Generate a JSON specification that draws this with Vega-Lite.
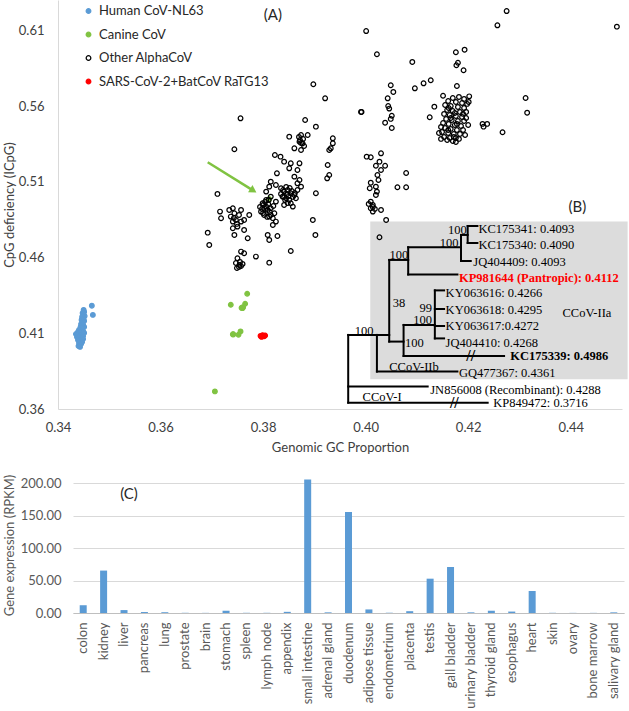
{
"$schema":"https://vega.github.io/schema/vega-lite/v6.json",
"padding":{"left":3,"top":0,"right":0,"bottom":0},
"config":{"view":{"stroke":null},"font":"Lato","axis":{"labelFont":"Lato","titleFont":"Lato","labelFontSize":13,"titleFontSize":13,"titleFontWeight":"normal","ticks":false,"labelFlush":false,"labelOverlap":false,"tickCount":12},"legend":{"labelFont":"Lato"}},
"columns":1,
"spacing":20,
"concat":[
{
"width":549,"height":409,
"layer":[
{"data":{"values":[{"x":0.4009,"x2":0.4511,"y":0.4837,"y2":0.3796}]},
 "mark":{"type":"rect","color":"#dcdcdc"},
 "encoding":{
  "x":{"field":"x","type":"quantitative","scale":{"domain":[0.34,0.45],"range":[-15,549],"nice":false,"zero":false},"axis":{"values":[0.34,0.36,0.38,0.40,0.42,0.44],"tickCount":12,"format":".2f","title":"Genomic GC Proportion","grid":false,"domainColor":"#d9d9d9","labelColor":"#404040","titleColor":"#404040","labelPadding":12,"titlePadding":7}},
  "x2":{"field":"x2"},
  "y":{"field":"y","type":"quantitative","scale":{"domain":[0.36,0.63],"nice":false,"zero":false},"axis":{"values":[0.36,0.41,0.46,0.51,0.56,0.61],"tickCount":12,"format":".2f","title":"CpG deficiency (ICpG)","grid":false,"offset":15,"domainColor":"#d9d9d9","labelColor":"#404040","titleColor":"#404040","labelPadding":14,"titlePadding":2}},
  "y2":{"field":"y2"}}},
{"data":{"values":[
{"g":"Human CoV-NL63","x":0.3450,"y":0.4254},{"g":"Human CoV-NL63","x":0.3451,"y":0.4241},{"g":"Human CoV-NL63","x":0.3448,"y":0.4234},{"g":"Human CoV-NL63","x":0.3449,"y":0.4221},{"g":"Human CoV-NL63","x":0.3452,"y":0.4214},{"g":"Human CoV-NL63","x":0.3447,"y":0.4208},{"g":"Human CoV-NL63","x":0.3450,"y":0.4194},{"g":"Human CoV-NL63","x":0.3446,"y":0.4188},{"g":"Human CoV-NL63","x":0.3451,"y":0.4181},{"g":"Human CoV-NL63","x":0.3448,"y":0.4175},{"g":"Human CoV-NL63","x":0.3445,"y":0.4161},{"g":"Human CoV-NL63","x":0.3449,"y":0.4155},{"g":"Human CoV-NL63","x":0.3451,"y":0.4142},{"g":"Human CoV-NL63","x":0.3444,"y":0.4142},{"g":"Human CoV-NL63","x":0.3447,"y":0.4135},{"g":"Human CoV-NL63","x":0.3441,"y":0.4122},{"g":"Human CoV-NL63","x":0.3445,"y":0.4115},{"g":"Human CoV-NL63","x":0.3449,"y":0.4115},{"g":"Human CoV-NL63","x":0.3439,"y":0.4109},{"g":"Human CoV-NL63","x":0.3443,"y":0.4102},{"g":"Human CoV-NL63","x":0.3447,"y":0.4095},{"g":"Human CoV-NL63","x":0.3451,"y":0.4102},{"g":"Human CoV-NL63","x":0.3435,"y":0.4095},{"g":"Human CoV-NL63","x":0.3439,"y":0.4089},{"g":"Human CoV-NL63","x":0.3444,"y":0.4082},{"g":"Human CoV-NL63","x":0.3449,"y":0.4082},{"g":"Human CoV-NL63","x":0.3437,"y":0.4076},{"g":"Human CoV-NL63","x":0.3441,"y":0.4069},{"g":"Human CoV-NL63","x":0.3445,"y":0.4062},{"g":"Human CoV-NL63","x":0.3449,"y":0.4062},{"g":"Human CoV-NL63","x":0.3439,"y":0.4056},{"g":"Human CoV-NL63","x":0.3443,"y":0.4049},{"g":"Human CoV-NL63","x":0.3447,"y":0.4043},{"g":"Human CoV-NL63","x":0.3441,"y":0.4036},{"g":"Human CoV-NL63","x":0.3445,"y":0.4029},{"g":"Human CoV-NL63","x":0.3440,"y":0.4016},{"g":"Human CoV-NL63","x":0.3443,"y":0.4010},{"g":"Human CoV-NL63","x":0.3466,"y":0.4282},{"g":"Human CoV-NL63","x":0.3468,"y":0.4221},
{"g":"Canine CoV","x":0.3769,"y":0.4361},{"g":"Canine CoV","x":0.3737,"y":0.4288},{"g":"Canine CoV","x":0.3765,"y":0.4295},{"g":"Canine CoV","x":0.3761,"y":0.4272},{"g":"Canine CoV","x":0.3758,"y":0.4268},{"g":"Canine CoV","x":0.3760,"y":0.4266},{"g":"Canine CoV","x":0.3742,"y":0.4093},{"g":"Canine CoV","x":0.3752,"y":0.4090},{"g":"Canine CoV","x":0.3756,"y":0.4112},{"g":"Canine CoV","x":0.3741,"y":0.4093},{"g":"Canine CoV","x":0.3706,"y":0.3716},{"g":"Canine CoV","x":0.3812,"y":0.4986},
{"g":"Other AlphaCoV","x":0.3756,"y":0.5519},{"g":"Other AlphaCoV","x":0.3744,"y":0.5315},{"g":"Other AlphaCoV","x":0.3882,"y":0.5508},{"g":"Other AlphaCoV","x":0.3903,"y":0.5464},{"g":"Other AlphaCoV","x":0.3851,"y":0.5398},{"g":"Other AlphaCoV","x":0.3874,"y":0.5409},{"g":"Other AlphaCoV","x":0.3871,"y":0.5365},{"g":"Other AlphaCoV","x":0.3877,"y":0.5354},{"g":"Other AlphaCoV","x":0.3887,"y":0.5409},{"g":"Other AlphaCoV","x":0.3861,"y":0.5321},{"g":"Other AlphaCoV","x":0.3874,"y":0.5310},{"g":"Other AlphaCoV","x":0.3936,"y":0.5387},{"g":"Other AlphaCoV","x":0.3936,"y":0.5354},{"g":"Other AlphaCoV","x":0.3932,"y":0.5321},{"g":"Other AlphaCoV","x":0.3929,"y":0.5310},{"g":"Other AlphaCoV","x":0.3926,"y":0.5211},{"g":"Other AlphaCoV","x":0.3929,"y":0.5145},{"g":"Other AlphaCoV","x":0.3925,"y":0.5123},{"g":"Other AlphaCoV","x":0.3823,"y":0.5277},{"g":"Other AlphaCoV","x":0.3834,"y":0.5266},{"g":"Other AlphaCoV","x":0.3841,"y":0.5233},{"g":"Other AlphaCoV","x":0.3854,"y":0.5222},{"g":"Other AlphaCoV","x":0.3871,"y":0.5222},{"g":"Other AlphaCoV","x":0.3851,"y":0.5189},{"g":"Other AlphaCoV","x":0.3867,"y":0.5178},{"g":"Other AlphaCoV","x":0.3861,"y":0.5134},{"g":"Other AlphaCoV","x":0.3827,"y":0.5156},{"g":"Other AlphaCoV","x":0.3815,"y":0.5101},{"g":"Other AlphaCoV","x":0.3825,"y":0.5079},
{"g":"Other AlphaCoV","x":0.3835,"y":0.5057},{"g":"Other AlphaCoV","x":0.3841,"y":0.5035},{"g":"Other AlphaCoV","x":0.3848,"y":0.5046},{"g":"Other AlphaCoV","x":0.3854,"y":0.5024},{"g":"Other AlphaCoV","x":0.3838,"y":0.5002},{"g":"Other AlphaCoV","x":0.3845,"y":0.4991},{"g":"Other AlphaCoV","x":0.3851,"y":0.4980},{"g":"Other AlphaCoV","x":0.3861,"y":0.5013},{"g":"Other AlphaCoV","x":0.3867,"y":0.5046},{"g":"Other AlphaCoV","x":0.3864,"y":0.4991},{"g":"Other AlphaCoV","x":0.3871,"y":0.5112},{"g":"Other AlphaCoV","x":0.3874,"y":0.5068},{"g":"Other AlphaCoV","x":0.3867,"y":0.5090},{"g":"Other AlphaCoV","x":0.3854,"y":0.4958},{"g":"Other AlphaCoV","x":0.3858,"y":0.4936},{"g":"Other AlphaCoV","x":0.3841,"y":0.4947},{"g":"Other AlphaCoV","x":0.3903,"y":0.5024},{"g":"Other AlphaCoV","x":0.3839,"y":0.5046},{"g":"Other AlphaCoV","x":0.3847,"y":0.5020},{"g":"Other AlphaCoV","x":0.3852,"y":0.5059},{"g":"Other AlphaCoV","x":0.3858,"y":0.5000},{"g":"Other AlphaCoV","x":0.3843,"y":0.4980},{"g":"Other AlphaCoV","x":0.3850,"y":0.5006},{"g":"Other AlphaCoV","x":0.3835,"y":0.5020},{"g":"Other AlphaCoV","x":0.3856,"y":0.5039},{"g":"Other AlphaCoV","x":0.3845,"y":0.5066},{"g":"Other AlphaCoV","x":0.3862,"y":0.5026},{"g":"Other AlphaCoV","x":0.3848,"y":0.4960},{"g":"Other AlphaCoV","x":0.3841,"y":0.5000},
{"g":"Other AlphaCoV","x":0.3799,"y":0.4958},{"g":"Other AlphaCoV","x":0.3806,"y":0.4936},{"g":"Other AlphaCoV","x":0.3809,"y":0.4914},{"g":"Other AlphaCoV","x":0.3815,"y":0.4925},{"g":"Other AlphaCoV","x":0.3796,"y":0.4903},{"g":"Other AlphaCoV","x":0.3802,"y":0.4881},{"g":"Other AlphaCoV","x":0.3812,"y":0.4870},{"g":"Other AlphaCoV","x":0.3819,"y":0.4859},{"g":"Other AlphaCoV","x":0.3822,"y":0.4892},{"g":"Other AlphaCoV","x":0.3806,"y":0.4980},{"g":"Other AlphaCoV","x":0.3815,"y":0.5002},{"g":"Other AlphaCoV","x":0.3825,"y":0.4969},{"g":"Other AlphaCoV","x":0.3825,"y":0.4837},{"g":"Other AlphaCoV","x":0.3819,"y":0.4815},{"g":"Other AlphaCoV","x":0.3806,"y":0.5035},{"g":"Other AlphaCoV","x":0.3812,"y":0.5068},{"g":"Other AlphaCoV","x":0.3800,"y":0.4947},{"g":"Other AlphaCoV","x":0.3804,"y":0.4921},{"g":"Other AlphaCoV","x":0.3810,"y":0.4954},{"g":"Other AlphaCoV","x":0.3813,"y":0.4901},{"g":"Other AlphaCoV","x":0.3800,"y":0.4894},{"g":"Other AlphaCoV","x":0.3808,"y":0.4868},{"g":"Other AlphaCoV","x":0.3794,"y":0.4934},{"g":"Other AlphaCoV","x":0.3820,"y":0.4940},{"g":"Other AlphaCoV","x":0.3811,"y":0.4980},{"g":"Other AlphaCoV","x":0.3804,"y":0.4967},{"g":"Other AlphaCoV","x":0.3815,"y":0.4881},{"g":"Other AlphaCoV","x":0.3798,"y":0.4921},
{"g":"Other AlphaCoV","x":0.3711,"y":0.5020},{"g":"Other AlphaCoV","x":0.3716,"y":0.4903},{"g":"Other AlphaCoV","x":0.3718,"y":0.4859},
{"g":"Other AlphaCoV","x":0.3734,"y":0.4914},{"g":"Other AlphaCoV","x":0.3741,"y":0.4925},{"g":"Other AlphaCoV","x":0.3744,"y":0.4892},{"g":"Other AlphaCoV","x":0.3737,"y":0.4870},{"g":"Other AlphaCoV","x":0.3741,"y":0.4837},{"g":"Other AlphaCoV","x":0.3747,"y":0.4848},{"g":"Other AlphaCoV","x":0.3757,"y":0.4837},{"g":"Other AlphaCoV","x":0.3763,"y":0.4848},{"g":"Other AlphaCoV","x":0.3750,"y":0.4804},{"g":"Other AlphaCoV","x":0.3741,"y":0.4793},{"g":"Other AlphaCoV","x":0.3744,"y":0.4749},{"g":"Other AlphaCoV","x":0.3763,"y":0.4782},{"g":"Other AlphaCoV","x":0.3757,"y":0.4914},{"g":"Other AlphaCoV","x":0.3773,"y":0.4881},{"g":"Other AlphaCoV","x":0.3770,"y":0.4727},{"g":"Other AlphaCoV","x":0.3743,"y":0.4861},{"g":"Other AlphaCoV","x":0.3749,"y":0.4822},{"g":"Other AlphaCoV","x":0.3753,"y":0.4881},
{"g":"Other AlphaCoV","x":0.3692,"y":0.4764},{"g":"Other AlphaCoV","x":0.3695,"y":0.4683},{"g":"Other AlphaCoV","x":0.3809,"y":0.4749},{"g":"Other AlphaCoV","x":0.3812,"y":0.4716},{"g":"Other AlphaCoV","x":0.3828,"y":0.4742},{"g":"Other AlphaCoV","x":0.3897,"y":0.4848},{"g":"Other AlphaCoV","x":0.3902,"y":0.4749},{"g":"Other AlphaCoV","x":0.3854,"y":0.4643},{"g":"Other AlphaCoV","x":0.3757,"y":0.4639},{"g":"Other AlphaCoV","x":0.3763,"y":0.4628},{"g":"Other AlphaCoV","x":0.3750,"y":0.4595},{"g":"Other AlphaCoV","x":0.3786,"y":0.4606},{"g":"Other AlphaCoV","x":0.3754,"y":0.4551},{"g":"Other AlphaCoV","x":0.3760,"y":0.4558},{"g":"Other AlphaCoV","x":0.3812,"y":0.4566},{"g":"Other AlphaCoV","x":0.3747,"y":0.4564},{"g":"Other AlphaCoV","x":0.3753,"y":0.4538},{"g":"Other AlphaCoV","x":0.3757,"y":0.4544},{"g":"Other AlphaCoV","x":0.3749,"y":0.4531},{"g":"Other AlphaCoV","x":0.3755,"y":0.4571},
{"g":"Other AlphaCoV","x":0.3872,"y":0.5376},{"g":"Other AlphaCoV","x":0.3878,"y":0.5383},{"g":"Other AlphaCoV","x":0.3874,"y":0.5356},{"g":"Other AlphaCoV","x":0.3880,"y":0.5336},{"g":"Other AlphaCoV","x":0.3870,"y":0.5396},
{"g":"Other AlphaCoV","x":0.4275,"y":0.6227},{"g":"Other AlphaCoV","x":0.4257,"y":0.6133},{"g":"Other AlphaCoV","x":0.4490,"y":0.6124},{"g":"Other AlphaCoV","x":0.4001,"y":0.6095},{"g":"Other AlphaCoV","x":0.4022,"y":0.5942},{"g":"Other AlphaCoV","x":0.4091,"y":0.5891},{"g":"Other AlphaCoV","x":0.4176,"y":0.5955},{"g":"Other AlphaCoV","x":0.4193,"y":0.5972},{"g":"Other AlphaCoV","x":0.4180,"y":0.5886},{"g":"Other AlphaCoV","x":0.4177,"y":0.5869},{"g":"Other AlphaCoV","x":0.4191,"y":0.5836},{"g":"Other AlphaCoV","x":0.3898,"y":0.5744},{"g":"Other AlphaCoV","x":0.3921,"y":0.5651},
{"g":"Other AlphaCoV","x":0.4049,"y":0.5737},{"g":"Other AlphaCoV","x":0.4054,"y":0.5693},{"g":"Other AlphaCoV","x":0.4043,"y":0.5651},{"g":"Other AlphaCoV","x":0.4044,"y":0.5600},{"g":"Other AlphaCoV","x":0.4046,"y":0.5583},{"g":"Other AlphaCoV","x":0.4051,"y":0.5536},{"g":"Other AlphaCoV","x":0.4049,"y":0.5515},{"g":"Other AlphaCoV","x":0.4038,"y":0.5490},{"g":"Other AlphaCoV","x":0.4051,"y":0.5455},{"g":"Other AlphaCoV","x":0.3991,"y":0.5561},{"g":"Other AlphaCoV","x":0.3992,"y":0.5561},
{"g":"Other AlphaCoV","x":0.4096,"y":0.5717},{"g":"Other AlphaCoV","x":0.4113,"y":0.5750},{"g":"Other AlphaCoV","x":0.4127,"y":0.5770},{"g":"Other AlphaCoV","x":0.4178,"y":0.5732},{"g":"Other AlphaCoV","x":0.4151,"y":0.5668},{"g":"Other AlphaCoV","x":0.4134,"y":0.5596},{"g":"Other AlphaCoV","x":0.4125,"y":0.5526},{"g":"Other AlphaCoV","x":0.4202,"y":0.5664},{"g":"Other AlphaCoV","x":0.4228,"y":0.5482},{"g":"Other AlphaCoV","x":0.4237,"y":0.5482},{"g":"Other AlphaCoV","x":0.4230,"y":0.5464},{"g":"Other AlphaCoV","x":0.4267,"y":0.5427},{"g":"Other AlphaCoV","x":0.4312,"y":0.5653},{"g":"Other AlphaCoV","x":0.4315,"y":0.5556},
{"g":"Other AlphaCoV","x":0.4002,"y":0.5266},{"g":"Other AlphaCoV","x":0.4010,"y":0.5262},{"g":"Other AlphaCoV","x":0.4030,"y":0.5288},{"g":"Other AlphaCoV","x":0.4027,"y":0.5233},{"g":"Other AlphaCoV","x":0.4020,"y":0.5206},{"g":"Other AlphaCoV","x":0.4038,"y":0.5206},{"g":"Other AlphaCoV","x":0.4030,"y":0.5178},{"g":"Other AlphaCoV","x":0.4023,"y":0.5145},{"g":"Other AlphaCoV","x":0.4025,"y":0.5112},{"g":"Other AlphaCoV","x":0.4010,"y":0.5094},{"g":"Other AlphaCoV","x":0.4020,"y":0.5068},{"g":"Other AlphaCoV","x":0.4022,"y":0.5035},{"g":"Other AlphaCoV","x":0.4008,"y":0.5057},{"g":"Other AlphaCoV","x":0.4020,"y":0.5013},{"g":"Other AlphaCoV","x":0.4010,"y":0.4969},{"g":"Other AlphaCoV","x":0.4014,"y":0.4947},{"g":"Other AlphaCoV","x":0.4010,"y":0.4925},{"g":"Other AlphaCoV","x":0.4014,"y":0.4903},{"g":"Other AlphaCoV","x":0.4030,"y":0.4914},{"g":"Other AlphaCoV","x":0.4040,"y":0.4848},{"g":"Other AlphaCoV","x":0.4027,"y":0.4734},{"g":"Other AlphaCoV","x":0.4014,"y":0.4934},{"g":"Other AlphaCoV","x":0.4006,"y":0.4954},{"g":"Other AlphaCoV","x":0.4018,"y":0.4921},
{"g":"Other AlphaCoV","x":0.4079,"y":0.5158},{"g":"Other AlphaCoV","x":0.4062,"y":0.5064},{"g":"Other AlphaCoV","x":0.4079,"y":0.5064},
{"g":"Other AlphaCoV","x":0.4170,"y":0.5653},{"g":"Other AlphaCoV","x":0.4182,"y":0.5660},{"g":"Other AlphaCoV","x":0.4192,"y":0.5647},{"g":"Other AlphaCoV","x":0.4161,"y":0.5633},{"g":"Other AlphaCoV","x":0.4176,"y":0.5627},{"g":"Other AlphaCoV","x":0.4188,"y":0.5620},{"g":"Other AlphaCoV","x":0.4198,"y":0.5614},{"g":"Other AlphaCoV","x":0.4155,"y":0.5607},{"g":"Other AlphaCoV","x":0.4166,"y":0.5600},{"g":"Other AlphaCoV","x":0.4180,"y":0.5594},{"g":"Other AlphaCoV","x":0.4192,"y":0.5587},{"g":"Other AlphaCoV","x":0.4159,"y":0.5574},{"g":"Other AlphaCoV","x":0.4170,"y":0.5567},{"g":"Other AlphaCoV","x":0.4184,"y":0.5561},{"g":"Other AlphaCoV","x":0.4196,"y":0.5561},{"g":"Other AlphaCoV","x":0.4153,"y":0.5548},{"g":"Other AlphaCoV","x":0.4164,"y":0.5541},{"g":"Other AlphaCoV","x":0.4176,"y":0.5534},{"g":"Other AlphaCoV","x":0.4188,"y":0.5528},{"g":"Other AlphaCoV","x":0.4157,"y":0.5515},{"g":"Other AlphaCoV","x":0.4168,"y":0.5508},{"g":"Other AlphaCoV","x":0.4180,"y":0.5501},{"g":"Other AlphaCoV","x":0.4192,"y":0.5501},{"g":"Other AlphaCoV","x":0.4151,"y":0.5488},{"g":"Other AlphaCoV","x":0.4162,"y":0.5482},{"g":"Other AlphaCoV","x":0.4174,"y":0.5475},{"g":"Other AlphaCoV","x":0.4186,"y":0.5468},{"g":"Other AlphaCoV","x":0.4155,"y":0.5455},{"g":"Other AlphaCoV","x":0.4166,"y":0.5449},{"g":"Other AlphaCoV","x":0.4178,"y":0.5442},{"g":"Other AlphaCoV","x":0.4190,"y":0.5442},{"g":"Other AlphaCoV","x":0.4149,"y":0.5429},{"g":"Other AlphaCoV","x":0.4161,"y":0.5422},{"g":"Other AlphaCoV","x":0.4172,"y":0.5416},{"g":"Other AlphaCoV","x":0.4184,"y":0.5416},{"g":"Other AlphaCoV","x":0.4153,"y":0.5396},{"g":"Other AlphaCoV","x":0.4164,"y":0.5389},{"g":"Other AlphaCoV","x":0.4176,"y":0.5389},{"g":"Other AlphaCoV","x":0.4159,"y":0.5376},{"g":"Other AlphaCoV","x":0.4170,"y":0.5369},{"g":"Other AlphaCoV","x":0.4182,"y":0.5383},{"g":"Other AlphaCoV","x":0.4147,"y":0.5462},{"g":"Other AlphaCoV","x":0.4196,"y":0.5521},{"g":"Other AlphaCoV","x":0.4162,"y":0.5587},{"g":"Other AlphaCoV","x":0.4174,"y":0.5554},{"g":"Other AlphaCoV","x":0.4166,"y":0.5521},{"g":"Other AlphaCoV","x":0.4178,"y":0.5482},{"g":"Other AlphaCoV","x":0.4161,"y":0.5442},{"g":"Other AlphaCoV","x":0.4172,"y":0.5396},{"g":"Other AlphaCoV","x":0.4190,"y":0.5548},{"g":"Other AlphaCoV","x":0.4143,"y":0.5422},{"g":"Other AlphaCoV","x":0.4201,"y":0.5627},{"g":"Other AlphaCoV","x":0.4200,"y":0.5475},{"g":"Other AlphaCoV","x":0.4147,"y":0.5383},{"g":"Other AlphaCoV","x":0.4176,"y":0.5363},{"g":"Other AlphaCoV","x":0.4194,"y":0.5409},
{"g":"SARS-CoV-2+BatCoV RaTG13","x":0.3795,"y":0.4083},{"g":"SARS-CoV-2+BatCoV RaTG13","x":0.3799,"y":0.4088},{"g":"SARS-CoV-2+BatCoV RaTG13","x":0.3802,"y":0.4080},{"g":"SARS-CoV-2+BatCoV RaTG13","x":0.3797,"y":0.4076},{"g":"SARS-CoV-2+BatCoV RaTG13","x":0.3804,"y":0.4085},{"g":"SARS-CoV-2+BatCoV RaTG13","x":0.3800,"y":0.4082}
]},
 "mark":{"type":"point","shape":"circle","opacity":1,"strokeWidth":1.2},
 "encoding":{
  "x":{"field":"x","type":"quantitative"},
  "y":{"field":"y","type":"quantitative"},
  "fill":{"field":"g","type":"nominal","scale":{"domain":["Human CoV-NL63","Canine CoV","Other AlphaCoV","SARS-CoV-2+BatCoV RaTG13"],"range":["#5b9bd5","#80c342","transparent","#ff0000"]},"legend":{"title":null,"orient":"none","legendX":9,"legendY":4.5,"labelFontSize":13,"labelColor":"#262626","labelLimit":0,"rowPadding":9.5,"padding":0,"labelOffset":4,"symbolStrokeWidth":1.2,"symbolType":"circle"}},
  "stroke":{"field":"g","type":"nominal","scale":{"domain":["Human CoV-NL63","Canine CoV","Other AlphaCoV","SARS-CoV-2+BatCoV RaTG13"],"range":["#5b9bd5","#80c342","#000000","#ff0000"]},"legend":{"title":null,"orient":"none","legendX":9,"legendY":4.5,"labelFontSize":13,"labelColor":"#262626","labelLimit":0,"rowPadding":9.5,"padding":0,"labelOffset":4,"symbolStrokeWidth":1.2,"symbolType":"circle"}},
  "size":{"field":"g","type":"nominal","scale":{"domain":["Human CoV-NL63","Canine CoV","Other AlphaCoV","SARS-CoV-2+BatCoV RaTG13"],"range":[22,22,90,80]},"legend":{"title":null,"orient":"none","legendX":9,"legendY":4.5,"labelFontSize":13,"labelColor":"#262626","labelLimit":0,"rowPadding":9.5,"padding":0,"labelOffset":4,"symbolStrokeWidth":1.2,"symbolType":"circle"}}
 }},
{"data":{"values":[{"x":0.3692,"y":0.5229,"x2":0.3781,"y2":0.5042}]},
 "mark":{"type":"rule","color":"#80c342","strokeWidth":2.5},
 "encoding":{"x":{"field":"x","type":"quantitative"},"y":{"field":"y","type":"quantitative"},"x2":{"field":"x2"},"y2":{"field":"y2"}}},
{"data":{"values":[{"x":0.3781,"y":0.5042}]},
 "mark":{"type":"point","shape":"triangle-right","filled":true,"color":"#80c342","opacity":1,"size":70,"angle":32},
 "encoding":{"x":{"field":"x","type":"quantitative"},"y":{"field":"y","type":"quantitative"}}},
{"data":{"values":[
{"x":0.3966,"y":0.4089,"x2":0.3966,"y2":0.3642},{"x":0.3966,"y":0.4089,"x2":0.4046,"y2":0.4089},{"x":0.4022,"y":0.4089,"x2":0.4022,"y2":0.3847},{"x":0.4022,"y":0.3847,"x2":0.4179,"y2":0.3847},{"x":0.4046,"y":0.4584,"x2":0.4046,"y2":0.4045},{"x":0.4046,"y":0.4045,"x2":0.4074,"y2":0.4045},{"x":0.4074,"y":0.4155,"x2":0.4074,"y2":0.3950},{"x":0.4074,"y":0.4155,"x2":0.4135,"y2":0.4155},{"x":0.4074,"y":0.3950,"x2":0.4270,"y2":0.3950},{"x":0.4135,"y":0.4383,"x2":0.4135,"y2":0.4066},{"x":0.4135,"y":0.4383,"x2":0.4153,"y2":0.4383},{"x":0.4135,"y":0.4260,"x2":0.4153,"y2":0.4260},{"x":0.4135,"y":0.4148,"x2":0.4153,"y2":0.4148},{"x":0.4135,"y":0.4066,"x2":0.4153,"y2":0.4066},{"x":0.4046,"y":0.4584,"x2":0.4083,"y2":0.4584},{"x":0.4083,"y":0.4668,"x2":0.4083,"y2":0.4488},{"x":0.4083,"y":0.4668,"x2":0.4186,"y2":0.4668},{"x":0.4083,"y":0.4488,"x2":0.4179,"y2":0.4488},{"x":0.4186,"y":0.4749,"x2":0.4186,"y2":0.4577},{"x":0.4186,"y":0.4749,"x2":0.4199,"y2":0.4749},{"x":0.4186,"y":0.4577,"x2":0.4205,"y2":0.4577},{"x":0.4199,"y":0.4808,"x2":0.4199,"y2":0.4696},{"x":0.4199,"y":0.4808,"x2":0.4218,"y2":0.4808},{"x":0.4199,"y":0.4696,"x2":0.4218,"y2":0.4696},{"x":0.3966,"y":0.3748,"x2":0.4121,"y2":0.3748},{"x":0.3966,"y":0.3642,"x2":0.4238,"y2":0.3642}
]},
 "mark":{"type":"rule","color":"#000000","strokeWidth":2,"strokeCap":"square"},
 "encoding":{"x":{"field":"x","type":"quantitative"},"y":{"field":"y","type":"quantitative"},"x2":{"field":"x2"},"y2":{"field":"y2"}}},
{"data":{"values":[
{"t":"KC175341: 0.4093","x":0.4220,"y":0.4788},{"t":"KC175340: 0.4090","x":0.4220,"y":0.4683},{"t":"JQ404409: 0.4093","x":0.4210,"y":0.4573},{"t":"KY063616: 0.4266","x":0.4156,"y":0.4366},{"t":"KY063618: 0.4295","x":0.4156,"y":0.4254},{"t":"KY063617:0.4272","x":0.4156,"y":0.4148},{"t":"JQ404410: 0.4268","x":0.4156,"y":0.4038},{"t":"GQ477367: 0.4361","x":0.4182,"y":0.3836},{"t":"JN856008 (Recombinant): 0.4288","x":0.4126,"y":0.3726},{"t":"KP849472: 0.3716","x":0.4249,"y":0.3638},{"t":"CCoV-IIa","x":0.4384,"y":0.4236},{"t":"CCoV-IIb","x":0.4046,"y":0.3880},{"t":"CCoV-I","x":0.3994,"y":0.3682}
]},
 "mark":{"type":"text","align":"left","baseline":"middle","font":"Liberation Serif","fontSize":12.5,"color":"#000000"},
 "encoding":{"x":{"field":"x","type":"quantitative"},"y":{"field":"y","type":"quantitative"},"text":{"field":"t"}}},
{"data":{"values":[{"t":"KP981644 (Pantropic): 0.4112","x":0.4182,"y":0.4465}]},
 "mark":{"type":"text","align":"left","baseline":"middle","font":"Liberation Serif","fontSize":12.5,"fontWeight":"bold","color":"#ff0000"},
 "encoding":{"x":{"field":"x","type":"quantitative"},"y":{"field":"y","type":"quantitative"},"text":{"field":"t"}}},
{"data":{"values":[{"t":"KC175339: 0.4986","x":0.4282,"y":0.3950}]},
 "mark":{"type":"text","align":"left","baseline":"middle","font":"Liberation Serif","fontSize":12.5,"fontWeight":"bold","color":"#000000"},
 "encoding":{"x":{"field":"x","type":"quantitative"},"y":{"field":"y","type":"quantitative"},"text":{"field":"t"}}},
{"data":{"values":[
{"t":"100","x":0.3997,"y":0.4115},{"t":"38","x":0.4065,"y":0.4298},{"t":"100","x":0.4065,"y":0.4617},{"t":"100","x":0.4179,"y":0.4782},{"t":"100","x":0.4163,"y":0.4698},{"t":"99","x":0.4117,"y":0.4265},{"t":"100","x":0.4111,"y":0.4188},{"t":"100","x":0.4095,"y":0.4034}
]},
 "mark":{"type":"text","align":"center","baseline":"middle","font":"Liberation Serif","fontSize":12.5,"color":"#000000"},
 "encoding":{"x":{"field":"x","type":"quantitative"},"y":{"field":"y","type":"quantitative"},"text":{"field":"t"}}},
{"data":{"values":[{"t":"//","x":0.4205,"y":0.3950},{"t":"//","x":0.4173,"y":0.3642}]},
 "mark":{"type":"text","align":"center","baseline":"middle","font":"Liberation Serif","fontSize":16,"fontWeight":"bold","color":"#000000"},
 "encoding":{"x":{"field":"x","type":"quantitative"},"y":{"field":"y","type":"quantitative"},"text":{"field":"t"}}},
{"data":{"values":[{"t":"(A)","x":0.3819,"y":0.6201},{"t":"(B)","x":0.4413,"y":0.4936}]},
 "mark":{"type":"text","align":"center","baseline":"middle","fontSize":15,"color":"#262626"},
 "encoding":{"x":{"field":"x","type":"quantitative"},"y":{"field":"y","type":"quantitative"},"text":{"field":"t"}}}
]
},
{
"width":551,"height":136,
"data":{"values":[
{"tissue":"colon","rpkm":12},{"tissue":"kidney","rpkm":65.5},{"tissue":"liver","rpkm":4.5},{"tissue":"pancreas","rpkm":1.5},{"tissue":"lung","rpkm":1.2},{"tissue":"prostate","rpkm":0.3},{"tissue":"brain","rpkm":0.2},{"tissue":"stomach","rpkm":3.5},{"tissue":"spleen","rpkm":0.3},{"tissue":"lymph node","rpkm":0.3},{"tissue":"appendix","rpkm":1.8},{"tissue":"small intestine","rpkm":206},{"tissue":"adrenal gland","rpkm":1},{"tissue":"duodenum","rpkm":156},{"tissue":"adipose tissue","rpkm":5.5},{"tissue":"endometrium","rpkm":0.4},{"tissue":"placenta","rpkm":2.8},{"tissue":"testis","rpkm":53},{"tissue":"gall bladder","rpkm":71},{"tissue":"urinary bladder","rpkm":1},{"tissue":"thyroid gland","rpkm":3.5},{"tissue":"esophagus","rpkm":2.2},{"tissue":"heart","rpkm":34},{"tissue":"skin","rpkm":0.3},{"tissue":"ovary","rpkm":0.2},{"tissue":"bone marrow","rpkm":0.2},{"tissue":"salivary gland","rpkm":1}
]},
"layer":[
{"mark":{"type":"bar","color":"#5b9bd5","width":7},
 "encoding":{
  "x":{"field":"tissue","type":"nominal","sort":null,"axis":{"title":null,"labelAngle":-90,"labelColor":"#595959","labelPadding":9,"domainColor":"#bfbfbf"}},
  "y":{"field":"rpkm","type":"quantitative","scale":{"domain":[0,210],"nice":false},"axis":{"values":[0,50,100,150,200],"tickCount":12,"format":".2f","grid":true,"gridColor":"#d9d9d9","domain":false,"labelColor":"#595959","title":"Gene expression (RPKM)","titleColor":"#595959","labelPadding":12,"titlePadding":4}}}},
{"transform":[{"filter":"datum.tissue == 'liver'"}],
 "mark":{"type":"text","text":"(C)","fontSize":15,"color":"#262626","dx":5},
 "encoding":{"x":{"field":"tissue","type":"nominal","sort":null},"y":{"datum":183}}}
]
}
]
}
